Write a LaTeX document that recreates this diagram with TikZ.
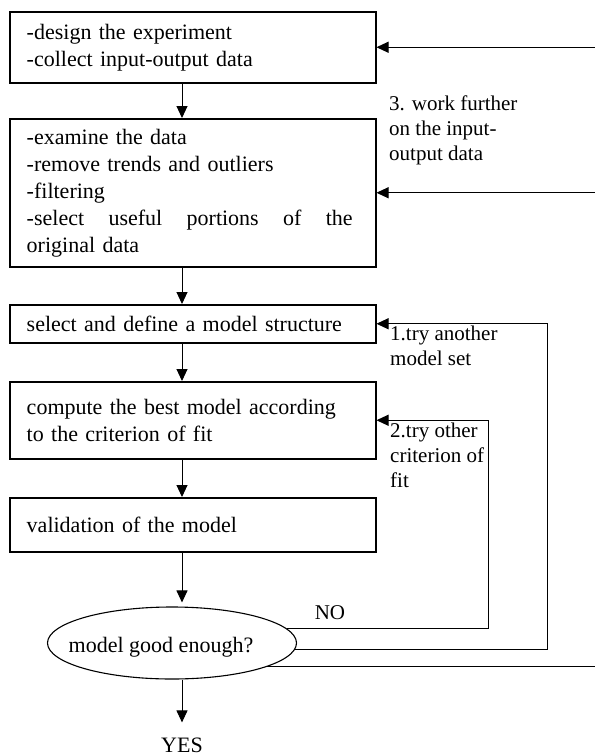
\documentclass[tikz,border=0pt]{standalone}
\usepackage{fontspec}
\setmainfont{Liberation Serif}
\usetikzlibrary{shapes.geometric,arrows.meta}

\begin{document}
\begin{tikzpicture}[x=1pt,y=-1pt,>={Triangle[length=12pt,width=11pt]},
  stepbox/.style={draw,line width=1.5pt,anchor=north west,text width=332pt,
    inner xsep=17pt,inner ysep=0pt,align=left,font=\fontsize{22}{27}\selectfont},
  decision/.style={draw,ellipse,line width=1.1pt,minimum width=249pt,
    minimum height=72pt,inner sep=0pt},
  note/.style={inner sep=0pt,align=left,font=\fontsize{21}{25}\selectfont},
  flow/.style={->,line width=1pt}]
  \useasboundingbox (0,0) rectangle (595,756);

  % the steps, top to bottom
  \node[stepbox,minimum height=71pt] (design) at (9,11)
    {-design the experiment\\-collect input-output data};
  \node[stepbox,minimum height=148pt] (prep) at (9,118)
    {-examine the data\\-remove trends and outliers\\-filtering\\
     \makebox[326pt][s]{-select\hfill useful\hfill portions\hfill of\hfill the}\\original data};
  \node[stepbox,minimum height=38pt] (struct) at (9,304)
    {select and define a model structure};
  \node[stepbox,minimum height=77pt] (fit) at (9,381)
    {compute the best model according\\to the criterion of fit};
  \node[stepbox,minimum height=54pt] (valid) at (9,497)
    {validation of the model};
  \node[decision] (good) at (172,643) {};
  \node[note,font=\fontsize{22}{27}\selectfont] (goodtext) at (161,647)
    {model good enough?};
  \node[note,font=\fontsize{22}{27}\selectfont] (yes) at (182,745) {YES};

  % where the lines run
  \coordinate (spine) at (182,0);
  \coordinate (loopfit) at (488,0);
  \coordinate (loopstruct) at (547,0);
  \coordinate (edge) at (595,0);

  \draw[flow] (design.south -| spine) -- (prep.north -| spine);
  \draw[flow] (prep.south -| spine) -- (struct.north -| spine);
  \draw[flow] (struct.south -| spine) -- (fit.north -| spine);
  \draw[flow] (fit.south -| spine) -- (valid.north -| spine);
  \draw[flow,shorten >=4pt] (valid.south -| spine) -- (good.north -| spine);
  \draw[flow,shorten >=15pt] (good.south -| spine) -- (yes.north);

  % the three ways back
  \draw[flow] (good.7) -| (loopfit |- fit.east) -- (fit.east);
  \draw[flow] (good.-3) -| (loopstruct |- struct.east) -- (struct.east);
  \draw[line width=1pt] (good.-14.5) -- (good.-14.5 -| edge);
  \draw[flow] (edge |- design.east) -- (design.east);
  \draw[flow] (edge |- prep.east) -- (prep.east);

  \node[note] (no) at (330,613) {NO};
  \node[note,anchor=north west] (further) at (389,96)
    {3. work further\\on the input-\\output data};
  \node[note,anchor=north west] (another) at (390,326)
    {1.try another\\model set};
  \node[note,anchor=north west] (other) at (390,423)
    {2.try other\\criterion of\\fit};
\end{tikzpicture}
\end{document}
